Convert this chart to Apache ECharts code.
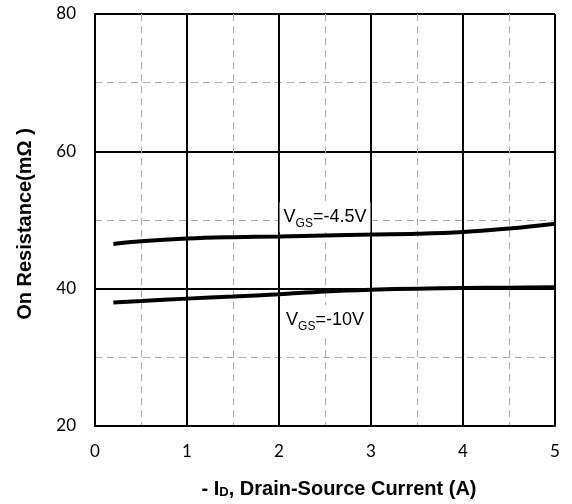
<!DOCTYPE html>
<html><head><meta charset="utf-8">
<script src="https://cdn.jsdelivr.net/npm/echarts@6/dist/echarts.min.js"></script>
<style>html,body{margin:0;padding:0;background:#fff}#c{width:572px;height:504px}</style>
</head><body><div id="c"></div>
<script>
const currentA = [0.2, 0.5, 1, 1.5, 2, 2.5, 3, 3.5, 4, 4.5, 5];
const rdsVgs45 = [46.5, 46.9, 47.3, 47.5, 47.6, 47.75, 47.9, 48.0, 48.25, 48.75, 49.45];
const rdsVgs10 = [38.0, 38.2, 38.55, 38.85, 39.2, 39.6, 39.85, 40.0, 40.1, 40.15, 40.2];
const labelVgs45 = {x: 2.5, y: 50.4, text: '{v|V}{s|GS}{v|=-4.5V}'};
const labelVgs10 = {x: 2.5, y: 35.4, text: '{v|V}{s|GS}{v|=-10V}'};

const chart = echarts.init(document.getElementById('c'));
const richLbl = {
  v: {fontFamily: 'Liberation Sans', fontSize: 18, lineHeight: 24, color: '#000', verticalAlign: 'middle'},
  s: {fontFamily: 'Liberation Sans', fontSize: 12, lineHeight: 14, color: '#000', verticalAlign: 'bottom'}
};
function mk(lbl) {
  return {
    symbol: 'rect', symbolSize: 0, silent: true,
    data: [{coord: [lbl.x, lbl.y]}],
    label: {show: true, position: 'inside', formatter: lbl.text, rich: richLbl,
      backgroundColor: '#fff', padding: [3, 4, 3, 4]}
  };
}
const pts = a => currentA.map((x, i) => [x, a[i]]);
chart.setOption({
  animation: false,
  grid: {left: 95, right: 17, top: 14, bottom: 77},
  xAxis: {
    type: 'value', min: 0, max: 5, interval: 1,
    name: '- I{sub|D}, Drain-Source Current (A)', nameLocation: 'middle', nameGap: 53,
    nameTextStyle: {fontFamily: 'Liberation Sans', fontWeight: 'bold', fontSize: 20, color: '#000',
      padding: [0, 0, 0, 28],
      rich: {sub: {fontFamily: 'Liberation Sans', fontWeight: 'bold', fontSize: 13, verticalAlign: 'bottom', lineHeight: 15, color: '#000'}}},
    axisLine: {show: true, lineStyle: {color: '#000', width: 2}},
    axisTick: {show: false},
    axisLabel: {fontFamily: 'Lato', fontSize: 17, color: '#000', margin: 17},
    splitLine: {show: true, lineStyle: {color: '#000', width: 2}},
    minorTick: {show: false, splitNumber: 2},
    minorSplitLine: {show: true, lineStyle: {color: '#aaa', width: 1, type: [7, 5]}}
  },
  yAxis: {
    type: 'value', min: 20, max: 80, interval: 20,
    name: 'On Resistance(mΩ )', nameLocation: 'middle', nameGap: 60,
    nameTextStyle: {fontFamily: 'Liberation Sans', fontWeight: 'bold', fontSize: 20, color: '#000',
      padding: [0, 8, 0, 0]},
    axisLine: {show: true, lineStyle: {color: '#000', width: 2}},
    axisTick: {show: false},
    axisLabel: {fontFamily: 'Lato', fontSize: 17, color: '#000', margin: 19},
    splitLine: {show: true, lineStyle: {color: '#000', width: 2}},
    minorTick: {show: false, splitNumber: 2},
    minorSplitLine: {show: true, lineStyle: {color: '#aaa', width: 1, type: [7, 5]}}
  },
  series: [
    {type: 'line', data: pts(rdsVgs45), smooth: 0.4, showSymbol: false, symbol: 'none',
     lineStyle: {color: '#000', width: 4}, markPoint: mk(labelVgs45), z: 3},
    {type: 'line', data: pts(rdsVgs10), smooth: 0.4, showSymbol: false, symbol: 'none',
     lineStyle: {color: '#000', width: 4}, markPoint: mk(labelVgs10), z: 3}
  ]
});
</script></body></html>
